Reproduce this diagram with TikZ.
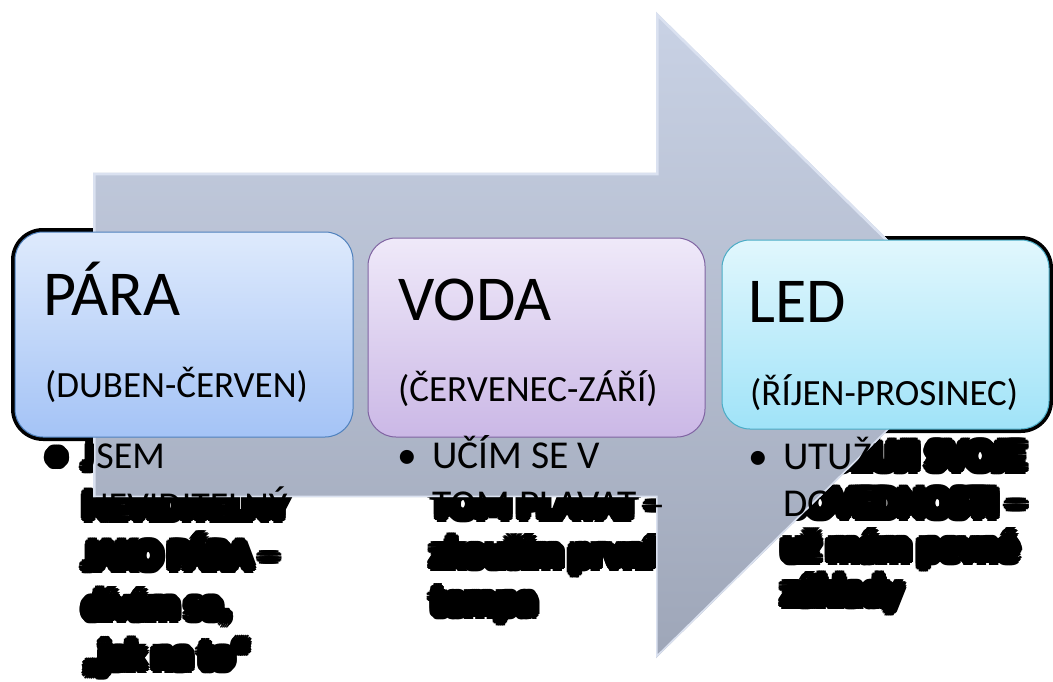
\documentclass[tikz,border=0pt]{standalone}
\usepackage{fontspec}
\setmainfont{Carlito}
\usetikzlibrary{calc}
\definecolor{arrtop}{RGB}{201,210,229}
\definecolor{arrbot}{RGB}{158,166,184}
\definecolor{arredge}{RGB}{218,225,240}
\definecolor{paratop}{RGB}{222,234,252}
\definecolor{parabot}{RGB}{164,195,246}
\definecolor{paraline}{RGB}{79,129,189}
\definecolor{vodatop}{RGB}{239,233,249}
\definecolor{vodabot}{RGB}{203,184,230}
\definecolor{vodaline}{RGB}{128,100,162}
\definecolor{ledtop}{RGB}{225,247,253}
\definecolor{ledbot}{RGB}{160,227,248}
\definecolor{ledline}{RGB}{75,172,198}
\tikzset{
  btxt/.style={anchor=base west, inner sep=0pt, text=black, font=\fontsize{#1}{#1}\selectfont},
  ttl/.style={anchor=base west, inner sep=0pt, text=black, font=\fontsize{64}{64}\selectfont},
  prn/.style={anchor=base west, inner sep=0pt, text=black, font=\fontsize{37}{37}\selectfont},
  boxshadow/.style={fill=black, rounded corners=32pt, inner sep=0pt},
  stagebox/.style={rounded corners=28pt, inner sep=0pt, line width=1pt},
}
\newcommand\glowline[4]{%
  \foreach \ang in {0,20,...,340}{\node[btxt=#1] at ($(#3)+(\ang:6)$) {#4};}%
  \foreach \ang in {0,45,...,315}{\node[btxt=#1] at ($(#3)+(\ang:3.2)$) {#4};}%
}
\newcommand\plainline[4]{\node[btxt=#1] (#2) at (#3) {#4};}
\newcommand\bodylines[1]{%
  #1{38}{b1}{47,468}{•}%
  #1{38}{t1a}{84,468}{JSEM}%
  #1{38}{t1b}{84,518}{NEVIDITELNÝ}%
  #1{38}{t1c}{84,568}{JAKO PÁRA –}%
  #1{38}{t1d}{84,618}{dívám se,}%
  #1{38}{t1e}{84,668}{„jak na to“}%
  #1{39.5}{b2}{397,468}{•}%
  #1{39.5}{t2a}{432,468}{UČÍM SE V}%
  #1{39.5}{t2b}{432,517}{TOM PLAVAT –}%
  #1{39.5}{t2c}{432,566}{zkouším první}%
  #1{39.5}{t2d}{432,614}{tempa}%
  #1{39.5}{b3}{748,469}{•}%
  #1{39.5}{t3a}{783,469}{UTUŽUJI SVOJE}%
  #1{39.5}{t3b}{783,516}{DOVEDNOSTI –}%
  #1{39.5}{t3c}{783,560}{už mám pevné}%
  #1{39.5}{t3d}{783,604}{základy}%
}
\begin{document}
\begin{tikzpicture}[x=1pt,y=-1pt]
\useasboundingbox (0,0) rectangle (1053,682);
\fill[white] (0,0) rectangle (1053,682);
% shadows of the boxes (seen only outside the arrow)
\node[boxshadow, minimum width=346pt, minimum height=213pt] (para-sh) at (184,334.5) {};
\node[boxshadow, minimum width=345pt, minimum height=207pt] (voda-sh) at (536.5,337.5) {};
\node[boxshadow, minimum width=335pt, minimum height=197pt] (led-sh) at (885.5,334.5) {};
% glow of body text
\bodylines{\glowline}
% big arrow
\shade[top color=arrtop, bottom color=arrbot]
  (93,173) -- (656,173) -- (656,12) -- (985,335) -- (656,658) -- (656,497) -- (93,497) -- cycle;
\begin{scope}
  \clip (93,173) -- (656,173) -- (656,12) -- (985,335) -- (656,658) -- (656,497) -- (93,497) -- cycle;
  \draw[arredge, line width=3pt] (93,173) -- (656,173) -- (656,12) -- (985,335) -- (656,658) -- (656,497) -- (93,497) -- cycle;
  \draw[arredge, line width=5pt] (93,497) -- (93,173) -- (656,173) -- (656,12) -- (985,335);
\end{scope}
% stage boxes
\node[stagebox, draw=paraline, top color=paratop, bottom color=parabot, minimum width=338pt, minimum height=205pt] (para) at (184,334.5) {};
\node[stagebox, draw=vodaline, top color=vodatop, bottom color=vodabot, minimum width=337pt, minimum height=199pt] (voda) at (536.5,337.5) {};
\node[stagebox, draw=ledline, top color=ledtop, bottom color=ledbot, minimum width=327pt, minimum height=189pt] (led) at (885.5,334.5) {};
% titles
\node[ttl] (para-t) at (43,315) {PÁRA};
\node[ttl] (voda-t) at (398,320) {VODA};
\node[ttl] (led-t) at (748,322) {LED};
\node[prn] (para-p) at (45,397) {(DUBEN-ČERVEN)};
\node[prn] (voda-p) at (398,401) {(ČERVENEC-ZÁŘÍ)};
\node[prn] (led-p) at (750,405) {(ŘÍJEN-PROSINEC)};
% body text
\bodylines{\plainline}
\end{tikzpicture}
\end{document}
